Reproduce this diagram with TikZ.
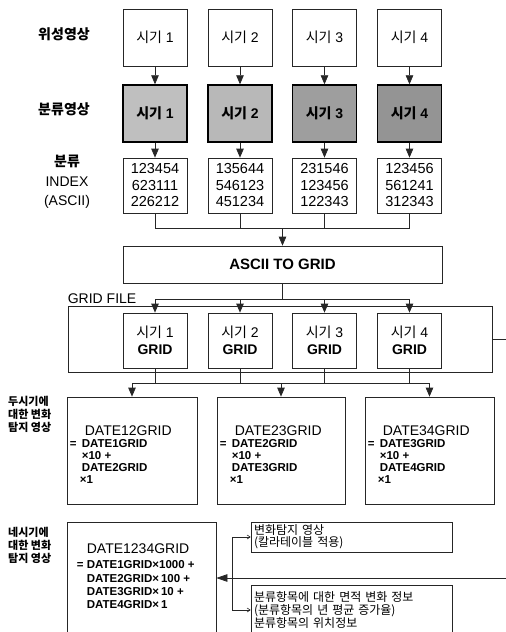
\documentclass[tikz,border=0pt]{standalone}
\usepackage{fontspec}
\setmainfont{Liberation Sans}
\newfontfamily\kr{Noto Sans CJK KR}
\usepackage{tikz}
\usetikzlibrary{arrows.meta,positioning}
\definecolor{ink}{gray}{0.15}
\newcommand\fsz[1]{\fontsize{#1}{#1}\selectfont}

\begin{document}
\begin{tikzpicture}[
    x=1pt,y=-1pt,
    font=\fsz{14},
    box/.style={draw=ink,line width=0.7pt,minimum width=64pt,inner sep=0pt,align=center},
    clsbox/.style={box,draw=black,line width=1.4pt,font=\fsz{14}\bfseries},
    wide/.style={draw=ink,line width=0.7pt,inner sep=0pt},
    wire/.style={draw=ink,line width=0.7pt},
    arr/.style={-{Triangle[length=9pt,width=7.5pt]},wire},
    sarr/.style={-{Straight Barb[length=3pt,width=4pt]},draw=ink,line width=0.6pt},
    dtext/.style={anchor=north west,inner sep=0pt,align=left,font=\fontsize{11.5}{12}\selectfont\bfseries},
    side/.style={anchor=west,inner sep=0pt,align=left,font=\kr\bfseries\fontsize{11}{13}\selectfont}
]
\useasboundingbox (0,0) rectangle (506,632);
\clip (0,0) rectangle (506,632);

% row labels
\node[inner sep=0pt,font=\kr\bfseries\fsz{14}] (lblsat) at (64,34) {위성영상};
\node[inner sep=0pt,font=\kr\bfseries\fsz{14}] (lblcls) at (64,109) {분류영상};
\node[inner sep=0pt,align=center,font=\fontsize{14}{19.5}\selectfont] (lblidx) at (67,182) {{\kr\bfseries 분류}\\INDEX\\(ASCII)};

% four periods: image, classified image, index
\foreach \i/\x/\g/\a/\b/\c in {1/155/25/123454/623111/226212,
                               2/240/28/135644/546123/451234,
                               3/324.5/38/231546/123456/122343,
                               4/409.5/42/123456/561241/312343}{
  \node[box,minimum height=57pt] (sat\i) at (\x,37.5) {{\kr 시기} \i};
  \node[clsbox,fill=black!\g,minimum height=57pt] (cls\i) at (\x,113.5) {{\kr 시기} \i};
  \node[box,minimum height=55pt,font=\fontsize{14.5}{16.5}\selectfont] (idx\i) at (\x,185.5) {\a\\\b\\\c};
  \draw[arr] (sat\i) -- (cls\i);
  \draw[arr] (cls\i) -- (idx\i);
}

% conversion
\node[wide,minimum width=319pt,minimum height=37pt,font=\fsz{15}\bfseries] (conv) at (282.5,264.5) {ASCII TO GRID};
\coordinate (inbus) at (282.5,228);
\foreach \i in {1,...,4} \draw[wire] (idx\i.south) -- (idx\i.south |- inbus);
\draw[wire] (idx1.south |- inbus) -- (idx4.south |- inbus);
\draw[arr] (inbus) -- (conv);

% grid file
\node[wide,minimum width=424pt,minimum height=66pt] (gridfile) at (280,339) {};
\node[anchor=base west,inner sep=0pt] (gflbl) at ([yshift=2pt]gridfile.north west) {GRID FILE};
\foreach \i/\x in {1/155,2/240,3/324.5,4/409.5}
  \node[box,minimum height=55pt,font=\fontsize{14}{17}\selectfont] (grid\i) at (\x,340.5) {{\kr 시기} \i\\\textbf{GRID}};
\coordinate (outbus) at (282.5,299);
\draw[wire] (conv) -- (outbus);
\draw[wire] (grid1.north |- outbus) -- (grid4.north |- outbus);
\foreach \i in {1,...,4} \draw[arr] (grid\i.north |- outbus) -- (grid\i);

% change detection of two periods
\node[side] (lbltwo) at (8,414) {두시기에\\대한 변화\\탐지 영상};
\node[wide,minimum width=130pt,minimum height=107pt] (dt12) at (132,450.5) {};
\node[wide,minimum width=128pt,minimum height=107pt] (dt23) at (281,450.5) {};
\node[wide,minimum width=129pt,minimum height=107pt] (dt34) at (429.5,450.5) {};
\node[dtext] (dt12t) at ([xshift=3pt,yshift=-29pt]dt12.north west)
  {{\mdseries\fsz{14}\hspace*{15pt}DATE12GRID}\\\makebox[12pt][l]{=}DATE1GRID\\\hspace*{12pt}×10 +\\\hspace*{12pt}DATE2GRID\\\hspace*{10pt}×1};
\node[dtext] (dt23t) at ([xshift=3pt,yshift=-29pt]dt23.north west)
  {{\mdseries\fsz{14}\hspace*{15pt}DATE23GRID}\\\makebox[12pt][l]{=}DATE2GRID\\\hspace*{12pt}×10 +\\\hspace*{12pt}DATE3GRID\\\hspace*{10pt}×1};
\node[dtext] (dt34t) at ([xshift=3pt,yshift=-29pt]dt34.north west)
  {{\mdseries\fsz{14}\hspace*{15pt}DATE34GRID}\\\makebox[12pt][l]{=}DATE3GRID\\\hspace*{12pt}×10 +\\\hspace*{12pt}DATE4GRID\\\hspace*{10pt}×1};
\coordinate (datebus) at (0,383);
\foreach \i in {1,...,4} \draw[wire] (grid\i.south) -- (grid\i.south |- datebus);
\draw[wire] (dt12.north |- datebus) -- (dt34.north |- datebus);
\foreach \d in {dt12,dt23,dt34} \draw[arr] (\d.north |- datebus) -- (\d);

% change detection of four periods
\node[side] (lblfour) at (8,545) {네시기에\\대한 변화\\탐지 영상};
\node[wide,minimum width=149pt,minimum height=112pt] (dt1234) at (141.5,578) {};
\node[dtext,font=\fontsize{11.5}{13.3}\selectfont\bfseries] (dt1234t) at ([xshift=0pt,yshift=-22pt]dt1234.north west)
  {{\mdseries\fsz{14}\hspace*{20pt}DATE1234GRID}\\[2pt]\hspace*{10pt}\makebox[10pt][l]{=}DATE1GRID×1000 +\\\hspace*{20pt}DATE2GRID×\,100 +\\\hspace*{20pt}DATE3GRID×\,10 +\\\hspace*{20pt}DATE4GRID×\,1};
\draw[-{Triangle[length=11pt,width=7.5pt]},wire] (gridfile.east) -- ++(40,0) |- (dt1234.east);

% results
\node[wide,minimum width=201pt,minimum height=30pt,text width=195pt,align=left,inner xsep=3pt,font=\kr\fontsize{12}{12}\selectfont] (res1) at (351.5,537) {변화탐지 영상\\(칼라테이블 적용)};
\node[wide,minimum width=201pt,minimum height=50pt,text width=195pt,align=left,inner xsep=3pt,font=\kr\fontsize{12}{12.8}\selectfont] (res2) at (351.5,610) {분류항목에 대한 면적 변화 정보\\(분류항목의 년 평균 증가율)\\분류항목의 위치정보};
\coordinate (split) at ([xshift=16pt]dt1234.east);
\draw[sarr] (split) |- (res1.west);
\draw[sarr] (split) |- (res2.west);
\end{tikzpicture}
\end{document}
